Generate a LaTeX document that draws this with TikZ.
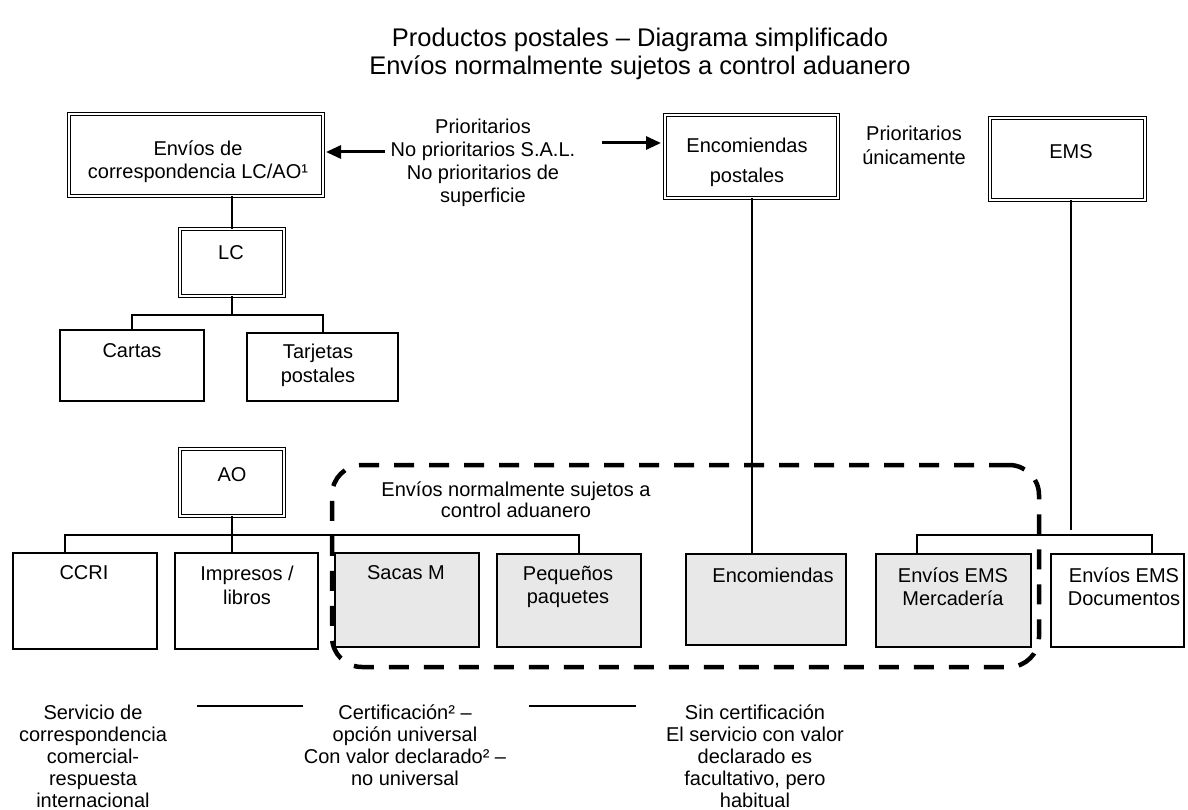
\documentclass[tikz,border=0pt]{standalone}
\usepackage{fontspec}
\setmainfont{Liberation Sans}
\usetikzlibrary{arrows.meta}
\begin{document}
\begin{tikzpicture}[x=1pt,y=-1pt,
  every node/.style={inner sep=0pt, outer sep=0pt},
  txt/.style={align=center, font=\fontsize{20}{23}\selectfont},
  dbox/.style={draw, line width=1.2pt, double, double distance=1.4pt},
  sbox/.style={draw, line width=2pt},
  gbox/.style={sbox, fill=black!9},
  conn/.style={line width=2pt},
  arr/.style={line width=3pt, -{Triangle[length=15pt,width=13pt]}},
  grp/.style={draw, line width=4.5pt, dash pattern=on 20pt off 15pt, rounded corners=30pt},
]
\useasboundingbox (0,0) rectangle (1188,810);

% title
\node[txt, font=\fontsize{25.5}{27.5}\selectfont] (title) at (640,54) {Productos postales – Diagrama simplificado\\Envíos normalmente sujetos a control aduanero};

% top row
\node[dbox, minimum width=254, minimum height=82] (corr) at (196,155) {};
\node[txt] (corrT) at (198,161.5) {Envíos de\\correspondencia LC/AO¹};
\node[txt] (mid) at (483,162.5) {Prioritarios\\No prioritarios S.A.L.\\No prioritarios de\\superficie};
\node[dbox, minimum width=173, minimum height=83] (encpost) at (751.5,156.5) {};
\node[txt, font=\fontsize{20}{30}\selectfont] (encpostT) at (747,162) {Encomiendas\\postales};
\node[txt, font=\fontsize{20}{24}\selectfont] (prio) at (914,145) {Prioritarios\\únicamente};
\node[dbox, minimum width=155, minimum height=82] (ems) at (1067.5,159) {};
\node[txt] (emsT) at (1071,152) {EMS};

\coordinate (aL) at (385,152);
\coordinate (aR) at (602,143);
\draw[arr, shorten >=3pt] (aL) -- (aL -| corr.east);
\draw[arr, shorten >=4pt] (aR) -- (aR -| encpost.west);

% LC branch
\node[dbox, minimum width=104, minimum height=67] (lc) at (232,262.5) {};
\node[txt] (lcT) at (231,253) {LC};
\node[sbox, minimum width=144, minimum height=71] (cartas) at (132,365.5) {};
\node[txt] (cartasT) at (132,351) {Cartas};
\node[sbox, minimum width=151, minimum height=68] (tarjetas) at (322.5,367) {};
\node[txt, font=\fontsize{20}{24}\selectfont] (tarjetasT) at (318,365) {Tarjetas\\postales};

\coordinate (lcbus) at (0,315);
\draw[conn] (lc.north |- corr.south) -- (lc.north);
\draw[conn] (lc.south) -- (lc.south |- lcbus);
\draw[conn] (cartas.north) -- (cartas.north |- lcbus) -- (tarjetas.north |- lcbus) -- (tarjetas.north);

% AO branch
\node[dbox, minimum width=104, minimum height=67] (ao) at (232,482.5) {};
\node[txt] (aoT) at (232,475) {AO};

\node[sbox, minimum width=144, minimum height=96] (ccri) at (85,601) {};
\node[txt] (ccriT) at (84,573) {CCRI};
\node[sbox, minimum width=143, minimum height=96] (impresos) at (246.5,601) {};
\node[txt, font=\fontsize{20}{24}\selectfont] (impresosT) at (247,585) {Impresos /\\libros};
\node[gbox, minimum width=144, minimum height=94] (sacas) at (407,600) {};
\node[txt] (sacasT) at (406,573) {Sacas M};
\node[gbox, minimum width=144, minimum height=93] (pequenos) at (569,600.5) {};
\node[txt] (pequenosT) at (568,586.5) {Pequeños\\paquetes};
\node[gbox, minimum width=160, minimum height=91] (encom) at (766,599.5) {};
\node[txt] (encomT) at (773,575) {Encomiendas};
\node[gbox, minimum width=155, minimum height=93] (merc) at (953.5,600.5) {};
\node[txt] (mercT) at (953,586.5) {Envíos EMS\\Mercadería};
\node[sbox, minimum width=133, minimum height=93] (docs) at (1117.5,600.5) {};
\node[txt] (docsT) at (1124,586.5) {Envíos EMS\\Documentos};

\coordinate (aoL) at (65,535);
\coordinate (aoR) at (579,535);
\draw[conn] (ao.south) -- (ao.south |- impresos.north);
\draw[conn] (ccri.north -| aoL) -- (aoL) -- (aoR) -- (pequenos.north -| aoR);

\draw[conn] (encpost.south) -- (encpost.south |- encom.north);

\coordinate (emsEnd) at (1071,530);
\coordinate (emsL) at (917,535);
\coordinate (emsR) at (1152,535);
\draw[conn] (ems.south -| emsEnd) -- (emsEnd);
\draw[conn] (merc.north -| emsL) -- (emsL) -- (emsR) -- (docs.north -| emsR);

% customs group
\node[grp, minimum width=707, minimum height=202] (group) at (685.5,566) {};
\node[txt, font=\fontsize{20}{21}\selectfont] (groupT) at (516,499.5) {Envíos normalmente sujetos a\\control aduanero};

% bottom notes
\node[txt, font=\fontsize{20}{22}\selectfont] (noteA) at (93,756) {Servicio de\\correspondencia\\comercial-\\respuesta\\internacional};
\node[txt, font=\fontsize{20}{22}\selectfont] (noteB) at (405,745) {Certificación² –\\opción universal\\Con valor declarado² –\\no universal};
\node[txt, font=\fontsize{20}{22}\selectfont] (noteC) at (755,756) {Sin certificación\\El servicio con valor\\declarado es\\facultativo, pero\\habitual};
\coordinate (s1a) at (197,706);
\coordinate (s1b) at (303,706);
\coordinate (s2a) at (529,706);
\coordinate (s2b) at (636,706);
\draw[conn] (s1a) -- (s1b);
\draw[conn] (s2a) -- (s2b);
\end{tikzpicture}
\end{document}
